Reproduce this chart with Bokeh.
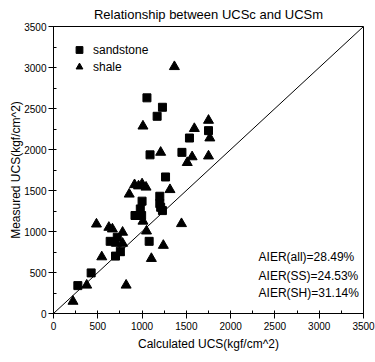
from bokeh.plotting import figure
from bokeh.models import Range1d, SingleIntervalTicker, Label, Legend, LegendItem, ColumnDataSource
from bokeh.embed import file_html
from bokeh.resources import INLINE

# sandstone: (calculated, measured)
ss_calc = [275, 425, 640, 720, 700, 755, 920, 995, 980, 1000, 1080, 1200, 1200, 1210, 1230,
           1265, 1055, 1230, 1170, 1090, 1450, 1535, 1750]
ss_meas = [340, 495, 880, 930, 700, 760, 1195, 1195, 1275, 1370, 880, 1430, 1340, 1295, 1255,
           1665, 2630, 2515, 2405, 1935, 1965, 2140, 2230]

# shale: (calculated, measured)
sh_calc = [220, 375, 545, 485, 625, 665, 780, 710, 780, 745, 820, 855, 915, 960, 1000, 1045,
           1010, 1050, 1105, 1315, 1240, 1445, 1510, 1365, 1010, 1590, 1210, 1565, 1750, 1765, 1750]
sh_meas = [148, 345, 690, 1090, 1050, 1030, 990, 855, 855, 740, 345, 1455, 1570, 1555, 1580, 1540,
           1125, 1005, 670, 1510, 830, 1095, 1840, 3010, 2285, 2255, 1965, 1910, 2355, 2140, 1920]

line_x = [0, 3500]
line_y = [0, 3500]

notes = ["AIER(all)=28.49%", "AIER(SS)=24.53%", "AIER(SH)=31.14%"]
note_y = [683, 463, 256]
note_x = 2315

FONT = "'Liberation Sans', Arial, sans-serif"

p = figure(width=375, height=362, output_backend="svg", toolbar_location=None,
           x_range=Range1d(0, 3500), y_range=Range1d(0, 3500),
           min_border_left=53, min_border_right=12, min_border_top=26, min_border_bottom=49,
           title="Relationship between UCSc and UCSm")
p.title.align = "center"
p.title.text_font = FONT
p.title.text_font_size = "13px"
p.title.text_font_style = "normal"
p.title.text_color = "black"
p.title.offset = 6
p.title.standoff = 9

p.grid.visible = False
p.background_fill_color = "white"
p.border_fill_color = "white"
p.outline_line_color = "black"
p.outline_line_width = 1
p.outline_line_alpha = 1

for ax, lab in ((p.xaxis[0], "Calculated UCS(kgf/cm^2)"), (p.yaxis[0], "Measured UCS(kgf/cm^2)")):
    ax.ticker = SingleIntervalTicker(interval=500, num_minor_ticks=2)
    ax.axis_label = lab
    ax.axis_label_text_font = FONT
    ax.axis_label_text_font_size = "12px"
    ax.axis_label_text_font_style = "normal"
    ax.axis_label_text_color = "black"
    ax.major_label_text_font = FONT
    ax.major_label_text_font_size = "10px"
    ax.major_label_text_color = "black"
    ax.axis_line_color = "black"
    ax.major_tick_line_color = "black"
    ax.minor_tick_line_color = "black"
    ax.major_tick_out = 5
    ax.major_tick_in = 0
    ax.minor_tick_out = 0
    ax.minor_tick_in = 3
    ax.major_label_standoff = 3
p.xaxis.axis_label_standoff = 4
p.yaxis.major_label_standoff = 2
p.yaxis.axis_label_standoff = -2

p.line(line_x, line_y, line_color="black", line_width=1)

src_ss = ColumnDataSource(dict(x=ss_calc, y=ss_meas))
src_sh = ColumnDataSource(dict(x=sh_calc, y=sh_meas))
r_ss = p.scatter("x", "y", source=src_ss, marker="square", size=8, fill_color="black", line_color="black")
r_sh = p.scatter("x", "y", source=src_sh, marker="triangle", size=10, fill_color="black", line_color="black")

legend = Legend(items=[LegendItem(label="sandstone", renderers=[r_ss]),
                       LegendItem(label="shale", renderers=[r_sh])],
                location="top_left", margin=15, padding=0, spacing=0,
                glyph_width=22, glyph_height=17, label_standoff=3,
                label_text_font=FONT, label_text_font_size="12px", label_text_color="black",
                background_fill_alpha=0, border_line_alpha=0)
p.add_layout(legend)

for t, yy in zip(notes, note_y):
    p.add_layout(Label(x=note_x, y=yy, text=t, text_font=FONT, text_font_size="12px",
                       text_color="black", text_baseline="middle", text_align="left"))

open("out.html", "w").write(file_html(p, INLINE))
